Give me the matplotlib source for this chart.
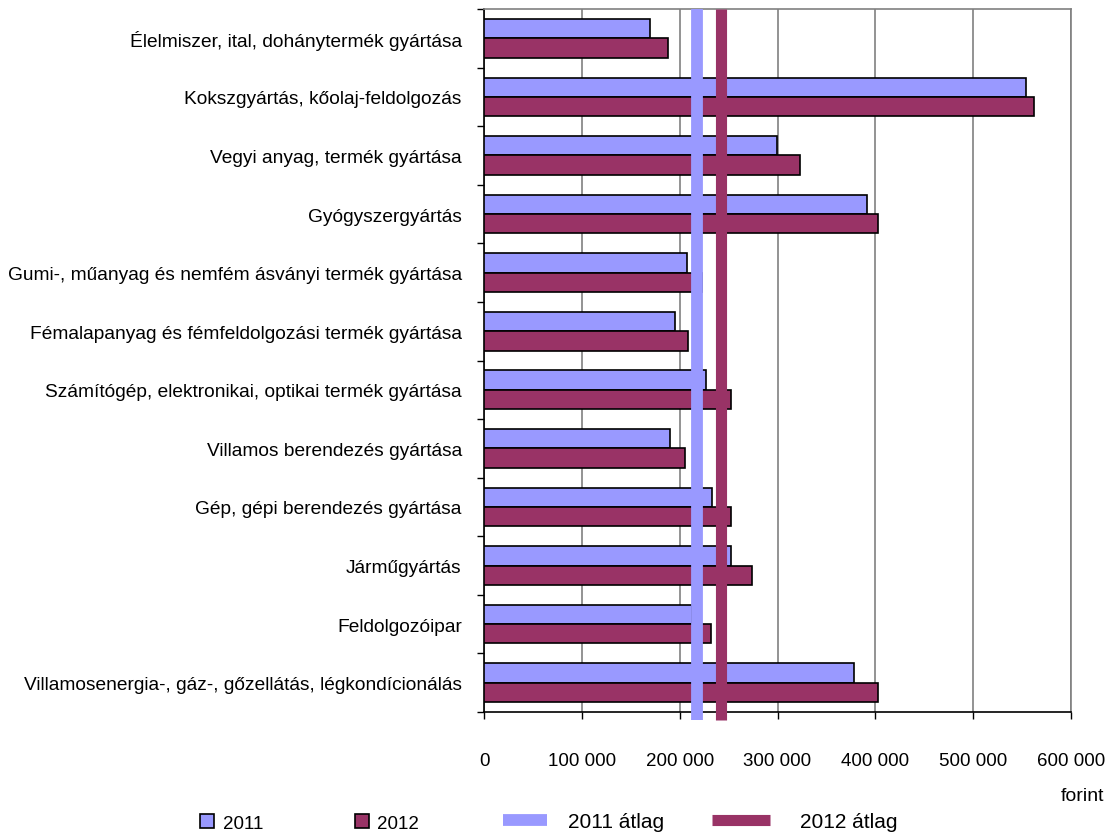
import numpy as np
import matplotlib
matplotlib.use("Agg")
import matplotlib.pyplot as plt
from matplotlib.patches import Patch
from matplotlib.lines import Line2D

plt.rcParams['font.family'] = ['Liberation Sans', 'DejaVu Sans']

categories = [
    "Élelmiszer, ital, dohánytermék gyártása",
    "Kokszgyártás, kőolaj-feldolgozás",
    "Vegyi anyag, termék gyártása",
    "Gyógyszergyártás",
    "Gumi-, műanyag és nemfém ásványi termék gyártása",
    "Fémalapanyag és fémfeldolgozási termék gyártása",
    "Számítógép, elektronikai, optikai termék gyártása",
    "Villamos berendezés gyártása",
    "Gép, gépi berendezés gyártása",
    "Járműgyártás",
    "Feldolgozóipar",
    "Villamosenergia-, gáz-, gőzellátás, légkondícionálás",
]
v2011 = [170000, 554000, 299000, 391000, 208000, 195000, 227000, 190000, 233000, 252000, 213000, 378000]
v2012 = [188000, 562000, 323000, 403000, 223000, 209000, 252000, 205000, 252000, 274000, 232000, 403000]
avg2011 = 218000
avg2012 = 242000
xticks = [0, 100000, 200000, 300000, 400000, 500000, 600000]
xticklabels = ["0", "100 000", "200 000", "300 000", "400 000", "500 000", "600 000"]

c2011 = "#9999FF"
c2012 = "#993366"

fig = plt.figure(figsize=(11.09, 8.37), dpi=100)
ax = fig.add_axes([484/1109, 1-713/837, (1071-484)/1109, (713-10)/837])

n = len(categories)
y = np.arange(n)
h = 0.33
ax.barh(y - h/2, v2011, height=h, color=c2011, edgecolor="black", linewidth=1.2, zorder=3)
ax.barh(y + h/2, v2012, height=h, color=c2012, edgecolor="black", linewidth=1.2, zorder=3)

# average lines, a bit past the bottom axis like the original
ax.axvline(avg2011, ymin=-0.012, ymax=1, color=c2011, linewidth=8.5, solid_capstyle="butt",
           clip_on=False, zorder=4)
ax.axvline(avg2012, ymin=-0.012, ymax=1, color=c2012, linewidth=8, solid_capstyle="butt",
           clip_on=False, zorder=4)

ax.set_xlim(0, 600000)
ax.set_ylim(n - 0.5, -0.5)
ax.set_xticks(xticks)
ax.set_xticklabels(xticklabels, fontsize=13.5)
ax.tick_params(axis="x", direction="out", length=5, width=1, pad=24, color="black")
ax.grid(axis="x", color="#808080", linewidth=1.2, zorder=0)

ax.set_yticks(y)
ax.set_yticklabels(categories, fontsize=13.8)
ax.tick_params(axis="y", which="major", length=0, pad=16)
ax.set_yticks(np.arange(n + 1) - 0.5, minor=True)
ax.tick_params(axis="y", which="minor", direction="out", length=5, width=1, color="black")

for s in ["top", "right"]:
    ax.spines[s].set_color("#808080")
    ax.spines[s].set_linewidth(1.2)
for s in ["left", "bottom"]:
    ax.spines[s].set_color("black")
    ax.spines[s].set_linewidth(1.2)

fig.text(1104/1109, 1-797/837, "forint", ha="right", va="center", fontsize=14)

bar_handles = [Patch(facecolor=c2011, edgecolor="black", linewidth=1.2),
               Patch(facecolor=c2012, edgecolor="black", linewidth=1.2)]
fig.legend(bar_handles, ["2011", "2012"], ncol=2, frameon=False, fontsize=13.5,
           handlelength=0.75, handleheight=0.75, handletextpad=0.45, columnspacing=4.9,
           loc="center left", bbox_to_anchor=(200/1109, 1-824/837), borderaxespad=0, borderpad=0)

fig.legend([Line2D([0], [0], color=c2011, linewidth=8.5, solid_capstyle="butt")],
           ["2011 átlag"], frameon=False, fontsize=15,
           handlelength=2.1, handletextpad=1.0,
           loc="center left", bbox_to_anchor=(503/1109, 1-823/837), borderaxespad=0, borderpad=0)

fig.legend([Line2D([0], [0], color=c2012, linewidth=8, solid_capstyle="butt")],
           ["2012 átlag"], frameon=False, fontsize=15,
           handlelength=2.8, handletextpad=1.4,
           loc="center left", bbox_to_anchor=(712/1109, 1-823/837), borderaxespad=0, borderpad=0)

fig.savefig("out.png", dpi=100)
